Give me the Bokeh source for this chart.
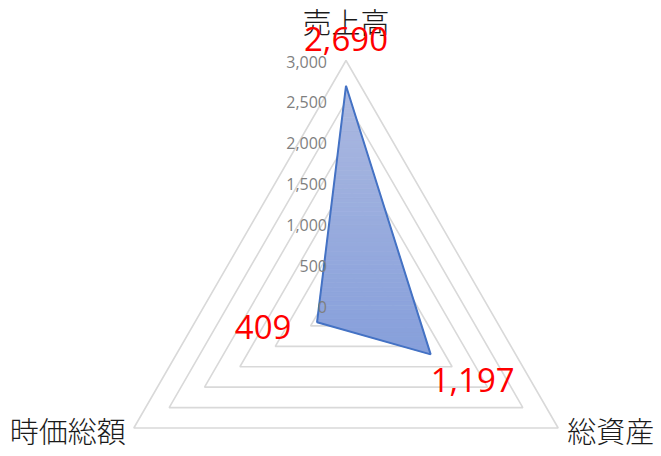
import numpy as np
from bokeh.plotting import figure
from bokeh.models import Range1d, ColumnDataSource
from bokeh.core.properties import value
from bokeh.embed import file_html
from bokeh.resources import INLINE

# ---- data ----
categories = ["売上高", "総資産", "時価総額"]
values = [2690, 1197, 409]
value_labels = ["2,690", "1,197", "409"]
tick_values = [0, 500, 1000, 1500, 2000, 2500, 3000]
tick_labels = ["0", "500", "1,000", "1,500", "2,000", "2,500", "3,000"]
max_value = 3000

# ---- layout / style ----
W, H = 661, 456
CX, CY = 345.5, 305.0       # centre in figure pixels (from top-left)
RPX = 245.0                  # pixel radius of max ring
s = max_value / RPX          # data units per pixel
angles = np.deg2rad([90, -30, 210])

p = figure(width=W, height=H, output_backend="svg", toolbar_location=None,
           x_range=Range1d(-CX * s, (W - CX) * s),
           y_range=Range1d(-(H - CY) * s, CY * s),
           x_axis_location=None, y_axis_location=None, min_border=0)
p.grid.visible = False
p.outline_line_color = None
p.background_fill_color = "white"

# rings
ring_xs, ring_ys = [], []
for v in tick_values[1:]:
    xs = list(v * np.cos(angles)) + [v * np.cos(angles[0])]
    ys = list(v * np.sin(angles)) + [v * np.sin(angles[0])]
    ring_xs.append(xs)
    ring_ys.append(ys)
p.multi_line(ring_xs, ring_ys, line_color="#d9d9d9", line_width=1.6)

# data polygon with vertical gradient (clip into horizontal bands)
px = [v * np.cos(a) for v, a in zip(values, angles)]
py = [v * np.sin(a) for v, a in zip(values, angles)]
poly = list(zip(px, py))

def clip(poly, y0, y1):
    def clip_edge(pts, inside, inter):
        out = []
        n = len(pts)
        for i in range(n):
            cur, prev = pts[i], pts[i - 1]
            if inside(cur):
                if not inside(prev):
                    out.append(inter(prev, cur))
                out.append(cur)
            elif inside(prev):
                out.append(inter(prev, cur))
        return out
    def inter_y(yc):
        def f(a, b):
            t = (yc - a[1]) / (b[1] - a[1])
            return (a[0] + t * (b[0] - a[0]), yc)
        return f
    pts = clip_edge(poly, lambda q: q[1] >= y0, inter_y(y0))
    if not pts:
        return pts
    pts = clip_edge(pts, lambda q: q[1] <= y1, inter_y(y1))
    return pts

ymin, ymax = min(py), max(py)
nb = 60
edges = np.linspace(ymin, ymax, nb + 1)
top_c = np.array([172, 185, 224])
bot_c = np.array([134, 159, 219])
bx, by, bc = [], [], []
for i in range(nb):
    pts = clip(poly, edges[i], edges[i + 1])
    if len(pts) < 3:
        continue
    t = 1 - ((edges[i] + edges[i + 1]) / 2 - ymin) / (ymax - ymin)
    c = top_c + (bot_c - top_c) * t
    bx.append([q[0] for q in pts])
    by.append([q[1] for q in pts])
    bc.append("#%02x%02x%02x" % tuple(int(round(k)) for k in c))
p.patches(bx, by, fill_color=bc, line_color=bc, line_width=0.8)
p.patch(px, py, fill_color=None, line_color="#4472c4", line_width=2)

# value axis labels
p.text(x=[0] * len(tick_values), y=tick_values, text=tick_labels,
       x_offset=-19, y_offset=1, text_align="right", text_baseline="middle",
       text_font=value("Open Sans"), text_font_size="16px", text_color="#7f7f7f")

# category labels
cat_r = [max_value] * 3
cx_ = [r * np.cos(a) for r, a in zip(cat_r, angles)]
cy_ = [r * np.sin(a) for r, a in zip(cat_r, angles)]
src_cat = ColumnDataSource(dict(x=cx_, y=cy_, t=categories,
                                xo=[0, 9, -8], yo=[-40, 2, 2],
                                al=["center", "left", "right"]))
p.text(x="x", y="y", text="t", x_offset="xo", y_offset="yo", text_align="al",
       text_baseline="middle",
       text_font=value("'Noto Sans CJK JP Light', 'Noto Sans CJK JP'"),
       text_font_size="29px", text_color="#1a1a1a", source=src_cat)

# data labels
src_val = ColumnDataSource(dict(x=px, y=py, t=value_labels,
                                xo=[0, 42, -54], yo=[-47, 26, 5]))
p.text(x="x", y="y", text="t", x_offset="xo", y_offset="yo", text_align="center",
       text_baseline="middle", text_font=value("Open Sans"),
       text_font_size="33px", text_color="#ff0000", source=src_val)

open("out.html", "w").write(file_html(p, INLINE))
